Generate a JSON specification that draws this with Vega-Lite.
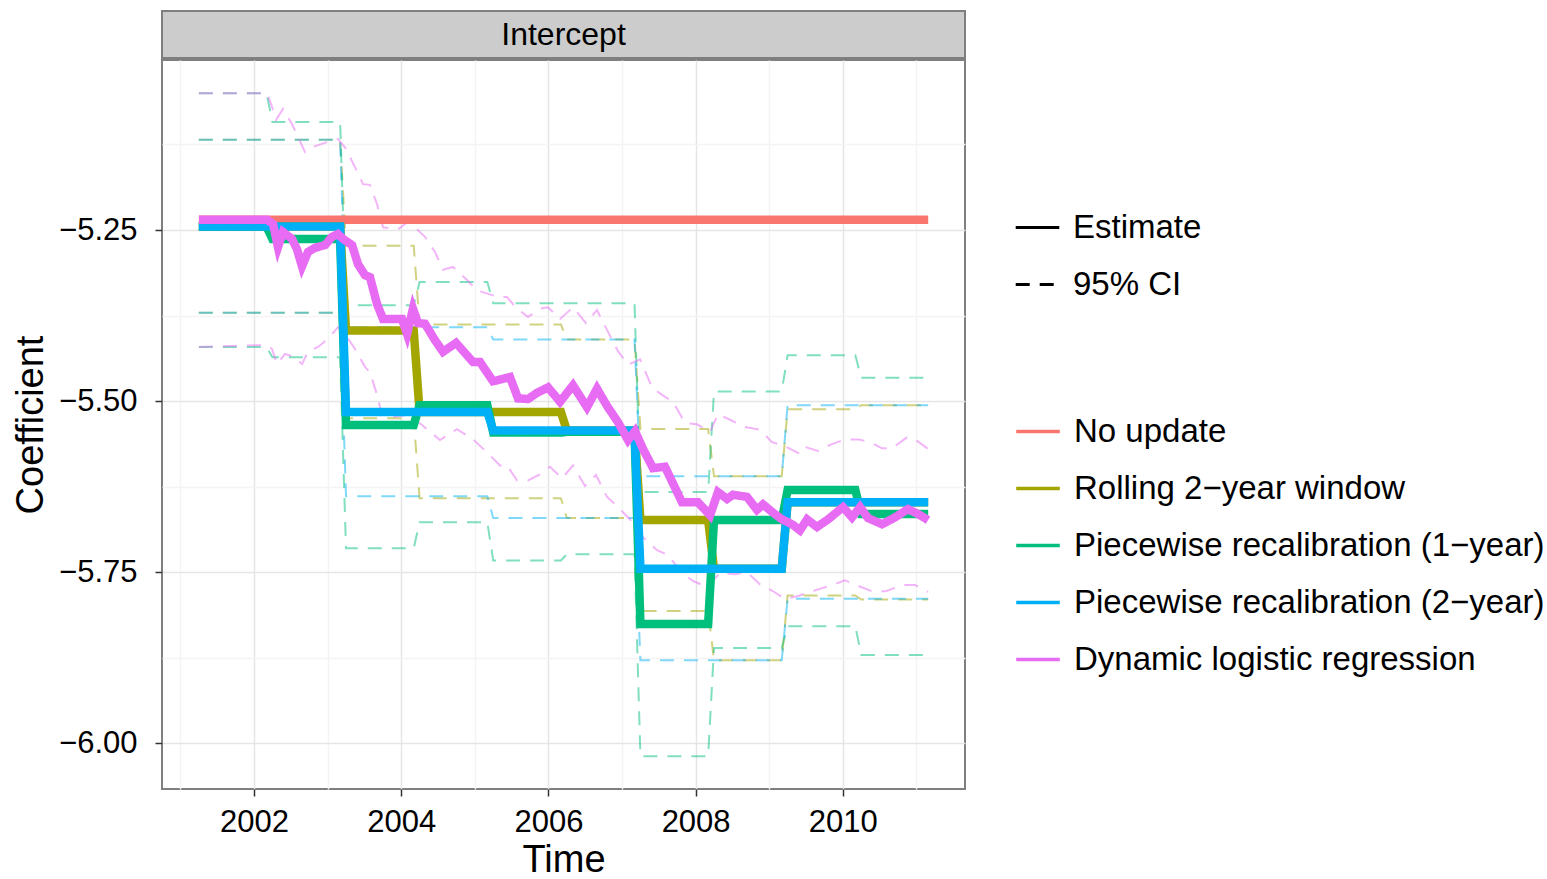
{
  "$schema": "https://vega.github.io/schema/vega-lite/v6.json",
  "padding": {"left": 11, "top": 10, "right": 0, "bottom": 0},
  "background": "white",
  "spacing": 0,
  "config": {
    "font": "Liberation Sans",
    "axis": {"domain": false, "labelFontSize": 31, "titleFontSize": 38, "titleFontWeight": "normal", "labelColor": "#000000", "titleColor": "#000000", "tickColor": "#333333", "tickSize": 7, "tickWidth": 1.5},
    "legend": {"labelFontSize": 33, "labelColor": "#000000", "labelLimit": 0, "symbolType": "stroke", "symbolStrokeWidth": 3, "symbolSize": 1900, "clipHeight": 57, "rowPadding": 0, "labelOffset": 12, "padding": 0, "symbolOpacity": 1}
  },
  "datasets": {
    "est": [
      {"s": "No update", "t": 2001.25, "v": -5.235},
      {"s": "No update", "t": 2011.16, "v": -5.235},
      {"s": "Rolling 2−year window", "t": 2001.25, "v": -5.245},
      {"s": "Rolling 2−year window", "t": 2003.17, "v": -5.245},
      {"s": "Rolling 2−year window", "t": 2003.25, "v": -5.397},
      {"s": "Rolling 2−year window", "t": 2004.17, "v": -5.397},
      {"s": "Rolling 2−year window", "t": 2004.25, "v": -5.516},
      {"s": "Rolling 2−year window", "t": 2006.17, "v": -5.516},
      {"s": "Rolling 2−year window", "t": 2006.25, "v": -5.543},
      {"s": "Rolling 2−year window", "t": 2007.17, "v": -5.543},
      {"s": "Rolling 2−year window", "t": 2007.25, "v": -5.674},
      {"s": "Rolling 2−year window", "t": 2008.17, "v": -5.674},
      {"s": "Rolling 2−year window", "t": 2008.25, "v": -5.745},
      {"s": "Rolling 2−year window", "t": 2009.17, "v": -5.745},
      {"s": "Rolling 2−year window", "t": 2009.25, "v": -5.648},
      {"s": "Rolling 2−year window", "t": 2011.16, "v": -5.648},
      {"s": "Piecewise recalibration (1−year)", "t": 2001.25, "v": -5.245},
      {"s": "Piecewise recalibration (1−year)", "t": 2002.17, "v": -5.245},
      {"s": "Piecewise recalibration (1−year)", "t": 2002.25, "v": -5.263},
      {"s": "Piecewise recalibration (1−year)", "t": 2003.17, "v": -5.263},
      {"s": "Piecewise recalibration (1−year)", "t": 2003.25, "v": -5.535},
      {"s": "Piecewise recalibration (1−year)", "t": 2004.17, "v": -5.535},
      {"s": "Piecewise recalibration (1−year)", "t": 2004.25, "v": -5.506},
      {"s": "Piecewise recalibration (1−year)", "t": 2005.17, "v": -5.506},
      {"s": "Piecewise recalibration (1−year)", "t": 2005.25, "v": -5.546},
      {"s": "Piecewise recalibration (1−year)", "t": 2006.17, "v": -5.546},
      {"s": "Piecewise recalibration (1−year)", "t": 2006.25, "v": -5.545},
      {"s": "Piecewise recalibration (1−year)", "t": 2007.17, "v": -5.545},
      {"s": "Piecewise recalibration (1−year)", "t": 2007.25, "v": -5.826},
      {"s": "Piecewise recalibration (1−year)", "t": 2008.17, "v": -5.826},
      {"s": "Piecewise recalibration (1−year)", "t": 2008.25, "v": -5.674},
      {"s": "Piecewise recalibration (1−year)", "t": 2009.17, "v": -5.674},
      {"s": "Piecewise recalibration (1−year)", "t": 2009.25, "v": -5.63},
      {"s": "Piecewise recalibration (1−year)", "t": 2010.17, "v": -5.63},
      {"s": "Piecewise recalibration (1−year)", "t": 2010.25, "v": -5.665},
      {"s": "Piecewise recalibration (1−year)", "t": 2011.16, "v": -5.665},
      {"s": "Piecewise recalibration (2−year)", "t": 2001.25, "v": -5.245},
      {"s": "Piecewise recalibration (2−year)", "t": 2003.17, "v": -5.245},
      {"s": "Piecewise recalibration (2−year)", "t": 2003.25, "v": -5.516},
      {"s": "Piecewise recalibration (2−year)", "t": 2005.17, "v": -5.516},
      {"s": "Piecewise recalibration (2−year)", "t": 2005.25, "v": -5.543},
      {"s": "Piecewise recalibration (2−year)", "t": 2007.17, "v": -5.543},
      {"s": "Piecewise recalibration (2−year)", "t": 2007.25, "v": -5.745},
      {"s": "Piecewise recalibration (2−year)", "t": 2009.17, "v": -5.745},
      {"s": "Piecewise recalibration (2−year)", "t": 2009.25, "v": -5.648},
      {"s": "Piecewise recalibration (2−year)", "t": 2011.16, "v": -5.648},
      {"s": "Dynamic logistic regression", "t": 2001.253, "v": -5.235},
      {"s": "Dynamic logistic regression", "t": 2002.177, "v": -5.235},
      {"s": "Dynamic logistic regression", "t": 2002.258, "v": -5.241},
      {"s": "Dynamic logistic regression", "t": 2002.326, "v": -5.275},
      {"s": "Dynamic logistic regression", "t": 2002.394, "v": -5.253},
      {"s": "Dynamic logistic regression", "t": 2002.516, "v": -5.263},
      {"s": "Dynamic logistic regression", "t": 2002.584, "v": -5.278},
      {"s": "Dynamic logistic regression", "t": 2002.652, "v": -5.303},
      {"s": "Dynamic logistic regression", "t": 2002.734, "v": -5.282},
      {"s": "Dynamic logistic regression", "t": 2002.829, "v": -5.276},
      {"s": "Dynamic logistic regression", "t": 2002.965, "v": -5.272},
      {"s": "Dynamic logistic regression", "t": 2003.06, "v": -5.26},
      {"s": "Dynamic logistic regression", "t": 2003.141, "v": -5.256},
      {"s": "Dynamic logistic regression", "t": 2003.209, "v": -5.263},
      {"s": "Dynamic logistic regression", "t": 2003.332, "v": -5.272},
      {"s": "Dynamic logistic regression", "t": 2003.413, "v": -5.3},
      {"s": "Dynamic logistic regression", "t": 2003.508, "v": -5.316},
      {"s": "Dynamic logistic regression", "t": 2003.576, "v": -5.319},
      {"s": "Dynamic logistic regression", "t": 2003.671, "v": -5.358},
      {"s": "Dynamic logistic regression", "t": 2003.753, "v": -5.38},
      {"s": "Dynamic logistic regression", "t": 2003.916, "v": -5.38},
      {"s": "Dynamic logistic regression", "t": 2004.011, "v": -5.38},
      {"s": "Dynamic logistic regression", "t": 2004.079, "v": -5.402},
      {"s": "Dynamic logistic regression", "t": 2004.16, "v": -5.365},
      {"s": "Dynamic logistic regression", "t": 2004.228, "v": -5.386},
      {"s": "Dynamic logistic regression", "t": 2004.323, "v": -5.387},
      {"s": "Dynamic logistic regression", "t": 2004.459, "v": -5.411},
      {"s": "Dynamic logistic regression", "t": 2004.568, "v": -5.428},
      {"s": "Dynamic logistic regression", "t": 2004.745, "v": -5.415},
      {"s": "Dynamic logistic regression", "t": 2004.976, "v": -5.443},
      {"s": "Dynamic logistic regression", "t": 2005.071, "v": -5.443},
      {"s": "Dynamic logistic regression", "t": 2005.247, "v": -5.471},
      {"s": "Dynamic logistic regression", "t": 2005.478, "v": -5.465},
      {"s": "Dynamic logistic regression", "t": 2005.587, "v": -5.496},
      {"s": "Dynamic logistic regression", "t": 2005.723, "v": -5.497},
      {"s": "Dynamic logistic regression", "t": 2005.845, "v": -5.488},
      {"s": "Dynamic logistic regression", "t": 2005.995, "v": -5.48},
      {"s": "Dynamic logistic regression", "t": 2006.158, "v": -5.501},
      {"s": "Dynamic logistic regression", "t": 2006.334, "v": -5.477},
      {"s": "Dynamic logistic regression", "t": 2006.524, "v": -5.509},
      {"s": "Dynamic logistic regression", "t": 2006.66, "v": -5.482},
      {"s": "Dynamic logistic regression", "t": 2006.796, "v": -5.507},
      {"s": "Dynamic logistic regression", "t": 2006.946, "v": -5.531},
      {"s": "Dynamic logistic regression", "t": 2007.082, "v": -5.557},
      {"s": "Dynamic logistic regression", "t": 2007.177, "v": -5.544},
      {"s": "Dynamic logistic regression", "t": 2007.285, "v": -5.57},
      {"s": "Dynamic logistic regression", "t": 2007.421, "v": -5.598},
      {"s": "Dynamic logistic regression", "t": 2007.584, "v": -5.596},
      {"s": "Dynamic logistic regression", "t": 2007.815, "v": -5.648},
      {"s": "Dynamic logistic regression", "t": 2008.033, "v": -5.648},
      {"s": "Dynamic logistic regression", "t": 2008.196, "v": -5.667},
      {"s": "Dynamic logistic regression", "t": 2008.304, "v": -5.633},
      {"s": "Dynamic logistic regression", "t": 2008.427, "v": -5.643},
      {"s": "Dynamic logistic regression", "t": 2008.508, "v": -5.637},
      {"s": "Dynamic logistic regression", "t": 2008.698, "v": -5.64},
      {"s": "Dynamic logistic regression", "t": 2008.834, "v": -5.659},
      {"s": "Dynamic logistic regression", "t": 2008.916, "v": -5.651},
      {"s": "Dynamic logistic regression", "t": 2009.038, "v": -5.662},
      {"s": "Dynamic logistic regression", "t": 2009.174, "v": -5.673},
      {"s": "Dynamic logistic regression", "t": 2009.255, "v": -5.677},
      {"s": "Dynamic logistic regression", "t": 2009.323, "v": -5.681},
      {"s": "Dynamic logistic regression", "t": 2009.418, "v": -5.689},
      {"s": "Dynamic logistic regression", "t": 2009.514, "v": -5.673},
      {"s": "Dynamic logistic regression", "t": 2009.649, "v": -5.684},
      {"s": "Dynamic logistic regression", "t": 2009.799, "v": -5.673},
      {"s": "Dynamic logistic regression", "t": 2010.003, "v": -5.655},
      {"s": "Dynamic logistic regression", "t": 2010.125, "v": -5.67},
      {"s": "Dynamic logistic regression", "t": 2010.234, "v": -5.655},
      {"s": "Dynamic logistic regression", "t": 2010.342, "v": -5.671},
      {"s": "Dynamic logistic regression", "t": 2010.533, "v": -5.68},
      {"s": "Dynamic logistic regression", "t": 2010.709, "v": -5.67},
      {"s": "Dynamic logistic regression", "t": 2010.886, "v": -5.658},
      {"s": "Dynamic logistic regression", "t": 2011.022, "v": -5.665},
      {"s": "Dynamic logistic regression", "t": 2011.158, "v": -5.674}
    ],
    "ci": [
      {"s": "Rolling 2−year window", "b": "u", "t": 2001.25, "v": -5.118},
      {"s": "Rolling 2−year window", "b": "u", "t": 2003.17, "v": -5.118},
      {"s": "Rolling 2−year window", "b": "u", "t": 2003.25, "v": -5.273},
      {"s": "Rolling 2−year window", "b": "u", "t": 2004.17, "v": -5.273},
      {"s": "Rolling 2−year window", "b": "u", "t": 2004.25, "v": -5.388},
      {"s": "Rolling 2−year window", "b": "u", "t": 2006.17, "v": -5.388},
      {"s": "Rolling 2−year window", "b": "u", "t": 2006.25, "v": -5.41},
      {"s": "Rolling 2−year window", "b": "u", "t": 2007.17, "v": -5.41},
      {"s": "Rolling 2−year window", "b": "u", "t": 2007.25, "v": -5.541},
      {"s": "Rolling 2−year window", "b": "u", "t": 2008.17, "v": -5.541},
      {"s": "Rolling 2−year window", "b": "u", "t": 2008.25, "v": -5.61},
      {"s": "Rolling 2−year window", "b": "u", "t": 2009.17, "v": -5.61},
      {"s": "Rolling 2−year window", "b": "u", "t": 2009.25, "v": -5.512},
      {"s": "Rolling 2−year window", "b": "u", "t": 2010.17, "v": -5.512},
      {"s": "Rolling 2−year window", "b": "u", "t": 2010.25, "v": -5.506},
      {"s": "Rolling 2−year window", "b": "u", "t": 2011.16, "v": -5.506},
      {"s": "Rolling 2−year window", "b": "l", "t": 2001.25, "v": -5.371},
      {"s": "Rolling 2−year window", "b": "l", "t": 2003.17, "v": -5.371},
      {"s": "Rolling 2−year window", "b": "l", "t": 2003.25, "v": -5.525},
      {"s": "Rolling 2−year window", "b": "l", "t": 2004.17, "v": -5.525},
      {"s": "Rolling 2−year window", "b": "l", "t": 2004.25, "v": -5.642},
      {"s": "Rolling 2−year window", "b": "l", "t": 2006.17, "v": -5.642},
      {"s": "Rolling 2−year window", "b": "l", "t": 2006.25, "v": -5.671},
      {"s": "Rolling 2−year window", "b": "l", "t": 2007.17, "v": -5.671},
      {"s": "Rolling 2−year window", "b": "l", "t": 2007.25, "v": -5.807},
      {"s": "Rolling 2−year window", "b": "l", "t": 2008.17, "v": -5.807},
      {"s": "Rolling 2−year window", "b": "l", "t": 2008.25, "v": -5.879},
      {"s": "Rolling 2−year window", "b": "l", "t": 2009.17, "v": -5.879},
      {"s": "Rolling 2−year window", "b": "l", "t": 2009.25, "v": -5.784},
      {"s": "Rolling 2−year window", "b": "l", "t": 2010.17, "v": -5.784},
      {"s": "Rolling 2−year window", "b": "l", "t": 2010.25, "v": -5.79},
      {"s": "Rolling 2−year window", "b": "l", "t": 2011.16, "v": -5.79},
      {"s": "Piecewise recalibration (1−year)", "b": "u", "t": 2001.25, "v": -5.05},
      {"s": "Piecewise recalibration (1−year)", "b": "u", "t": 2002.17, "v": -5.05},
      {"s": "Piecewise recalibration (1−year)", "b": "u", "t": 2002.25, "v": -5.092},
      {"s": "Piecewise recalibration (1−year)", "b": "u", "t": 2003.17, "v": -5.092},
      {"s": "Piecewise recalibration (1−year)", "b": "u", "t": 2003.25, "v": -5.36},
      {"s": "Piecewise recalibration (1−year)", "b": "u", "t": 2004.17, "v": -5.36},
      {"s": "Piecewise recalibration (1−year)", "b": "u", "t": 2004.25, "v": -5.326},
      {"s": "Piecewise recalibration (1−year)", "b": "u", "t": 2005.17, "v": -5.326},
      {"s": "Piecewise recalibration (1−year)", "b": "u", "t": 2005.25, "v": -5.357},
      {"s": "Piecewise recalibration (1−year)", "b": "u", "t": 2007.17, "v": -5.357},
      {"s": "Piecewise recalibration (1−year)", "b": "u", "t": 2007.25, "v": -5.633},
      {"s": "Piecewise recalibration (1−year)", "b": "u", "t": 2008.17, "v": -5.633},
      {"s": "Piecewise recalibration (1−year)", "b": "u", "t": 2008.25, "v": -5.486},
      {"s": "Piecewise recalibration (1−year)", "b": "u", "t": 2009.17, "v": -5.486},
      {"s": "Piecewise recalibration (1−year)", "b": "u", "t": 2009.25, "v": -5.433},
      {"s": "Piecewise recalibration (1−year)", "b": "u", "t": 2010.17, "v": -5.433},
      {"s": "Piecewise recalibration (1−year)", "b": "u", "t": 2010.25, "v": -5.466},
      {"s": "Piecewise recalibration (1−year)", "b": "u", "t": 2011.16, "v": -5.466},
      {"s": "Piecewise recalibration (1−year)", "b": "l", "t": 2001.25, "v": -5.421},
      {"s": "Piecewise recalibration (1−year)", "b": "l", "t": 2002.17, "v": -5.421},
      {"s": "Piecewise recalibration (1−year)", "b": "l", "t": 2002.25, "v": -5.436},
      {"s": "Piecewise recalibration (1−year)", "b": "l", "t": 2003.17, "v": -5.436},
      {"s": "Piecewise recalibration (1−year)", "b": "l", "t": 2003.25, "v": -5.715},
      {"s": "Piecewise recalibration (1−year)", "b": "l", "t": 2004.17, "v": -5.715},
      {"s": "Piecewise recalibration (1−year)", "b": "l", "t": 2004.25, "v": -5.677},
      {"s": "Piecewise recalibration (1−year)", "b": "l", "t": 2005.17, "v": -5.677},
      {"s": "Piecewise recalibration (1−year)", "b": "l", "t": 2005.25, "v": -5.733},
      {"s": "Piecewise recalibration (1−year)", "b": "l", "t": 2006.17, "v": -5.733},
      {"s": "Piecewise recalibration (1−year)", "b": "l", "t": 2006.25, "v": -5.724},
      {"s": "Piecewise recalibration (1−year)", "b": "l", "t": 2007.17, "v": -5.724},
      {"s": "Piecewise recalibration (1−year)", "b": "l", "t": 2007.25, "v": -6.019},
      {"s": "Piecewise recalibration (1−year)", "b": "l", "t": 2008.17, "v": -6.019},
      {"s": "Piecewise recalibration (1−year)", "b": "l", "t": 2008.25, "v": -5.861},
      {"s": "Piecewise recalibration (1−year)", "b": "l", "t": 2009.17, "v": -5.861},
      {"s": "Piecewise recalibration (1−year)", "b": "l", "t": 2009.25, "v": -5.829},
      {"s": "Piecewise recalibration (1−year)", "b": "l", "t": 2010.17, "v": -5.829},
      {"s": "Piecewise recalibration (1−year)", "b": "l", "t": 2010.25, "v": -5.871},
      {"s": "Piecewise recalibration (1−year)", "b": "l", "t": 2011.16, "v": -5.871},
      {"s": "Piecewise recalibration (2−year)", "b": "u", "t": 2001.25, "v": -5.118},
      {"s": "Piecewise recalibration (2−year)", "b": "u", "t": 2003.17, "v": -5.118},
      {"s": "Piecewise recalibration (2−year)", "b": "u", "t": 2003.25, "v": -5.392},
      {"s": "Piecewise recalibration (2−year)", "b": "u", "t": 2005.17, "v": -5.392},
      {"s": "Piecewise recalibration (2−year)", "b": "u", "t": 2005.25, "v": -5.41},
      {"s": "Piecewise recalibration (2−year)", "b": "u", "t": 2007.17, "v": -5.41},
      {"s": "Piecewise recalibration (2−year)", "b": "u", "t": 2007.25, "v": -5.61},
      {"s": "Piecewise recalibration (2−year)", "b": "u", "t": 2009.17, "v": -5.61},
      {"s": "Piecewise recalibration (2−year)", "b": "u", "t": 2009.25, "v": -5.506},
      {"s": "Piecewise recalibration (2−year)", "b": "u", "t": 2011.16, "v": -5.506},
      {"s": "Piecewise recalibration (2−year)", "b": "l", "t": 2001.25, "v": -5.371},
      {"s": "Piecewise recalibration (2−year)", "b": "l", "t": 2003.17, "v": -5.371},
      {"s": "Piecewise recalibration (2−year)", "b": "l", "t": 2003.25, "v": -5.639},
      {"s": "Piecewise recalibration (2−year)", "b": "l", "t": 2005.17, "v": -5.639},
      {"s": "Piecewise recalibration (2−year)", "b": "l", "t": 2005.25, "v": -5.671},
      {"s": "Piecewise recalibration (2−year)", "b": "l", "t": 2007.17, "v": -5.671},
      {"s": "Piecewise recalibration (2−year)", "b": "l", "t": 2007.25, "v": -5.879},
      {"s": "Piecewise recalibration (2−year)", "b": "l", "t": 2009.17, "v": -5.879},
      {"s": "Piecewise recalibration (2−year)", "b": "l", "t": 2009.25, "v": -5.789},
      {"s": "Piecewise recalibration (2−year)", "b": "l", "t": 2011.16, "v": -5.789},
      {"s": "Dynamic logistic regression", "b": "u", "t": 2001.253, "v": -5.05},
      {"s": "Dynamic logistic regression", "b": "u", "t": 2002.177, "v": -5.05},
      {"s": "Dynamic logistic regression", "b": "u", "t": 2002.245, "v": -5.07},
      {"s": "Dynamic logistic regression", "b": "u", "t": 2002.299, "v": -5.089},
      {"s": "Dynamic logistic regression", "b": "u", "t": 2002.394, "v": -5.073},
      {"s": "Dynamic logistic regression", "b": "u", "t": 2002.516, "v": -5.095},
      {"s": "Dynamic logistic regression", "b": "u", "t": 2002.598, "v": -5.114},
      {"s": "Dynamic logistic regression", "b": "u", "t": 2002.693, "v": -5.136},
      {"s": "Dynamic logistic regression", "b": "u", "t": 2002.788, "v": -5.129},
      {"s": "Dynamic logistic regression", "b": "u", "t": 2003.005, "v": -5.121},
      {"s": "Dynamic logistic regression", "b": "u", "t": 2003.141, "v": -5.117},
      {"s": "Dynamic logistic regression", "b": "u", "t": 2003.236, "v": -5.129},
      {"s": "Dynamic logistic regression", "b": "u", "t": 2003.372, "v": -5.158},
      {"s": "Dynamic logistic regression", "b": "u", "t": 2003.481, "v": -5.183},
      {"s": "Dynamic logistic regression", "b": "u", "t": 2003.576, "v": -5.184},
      {"s": "Dynamic logistic regression", "b": "u", "t": 2003.671, "v": -5.212},
      {"s": "Dynamic logistic regression", "b": "u", "t": 2003.753, "v": -5.246},
      {"s": "Dynamic logistic regression", "b": "u", "t": 2003.957, "v": -5.249},
      {"s": "Dynamic logistic regression", "b": "u", "t": 2004.092, "v": -5.238},
      {"s": "Dynamic logistic regression", "b": "u", "t": 2004.188, "v": -5.246},
      {"s": "Dynamic logistic regression", "b": "u", "t": 2004.323, "v": -5.26},
      {"s": "Dynamic logistic regression", "b": "u", "t": 2004.459, "v": -5.282},
      {"s": "Dynamic logistic regression", "b": "u", "t": 2004.568, "v": -5.308},
      {"s": "Dynamic logistic regression", "b": "u", "t": 2004.704, "v": -5.304},
      {"s": "Dynamic logistic regression", "b": "u", "t": 2004.894, "v": -5.323},
      {"s": "Dynamic logistic regression", "b": "u", "t": 2005.03, "v": -5.338},
      {"s": "Dynamic logistic regression", "b": "u", "t": 2005.315, "v": -5.348},
      {"s": "Dynamic logistic regression", "b": "u", "t": 2005.438, "v": -5.348},
      {"s": "Dynamic logistic regression", "b": "u", "t": 2005.573, "v": -5.365},
      {"s": "Dynamic logistic regression", "b": "u", "t": 2005.723, "v": -5.377},
      {"s": "Dynamic logistic regression", "b": "u", "t": 2005.886, "v": -5.365},
      {"s": "Dynamic logistic regression", "b": "u", "t": 2005.995, "v": -5.363},
      {"s": "Dynamic logistic regression", "b": "u", "t": 2006.158, "v": -5.38},
      {"s": "Dynamic logistic regression", "b": "u", "t": 2006.334, "v": -5.363},
      {"s": "Dynamic logistic regression", "b": "u", "t": 2006.511, "v": -5.386},
      {"s": "Dynamic logistic regression", "b": "u", "t": 2006.66, "v": -5.367},
      {"s": "Dynamic logistic regression", "b": "u", "t": 2006.796, "v": -5.396},
      {"s": "Dynamic logistic regression", "b": "u", "t": 2006.946, "v": -5.427},
      {"s": "Dynamic logistic regression", "b": "u", "t": 2007.082, "v": -5.447},
      {"s": "Dynamic logistic regression", "b": "u", "t": 2007.245, "v": -5.439},
      {"s": "Dynamic logistic regression", "b": "u", "t": 2007.408, "v": -5.48},
      {"s": "Dynamic logistic regression", "b": "u", "t": 2007.543, "v": -5.491},
      {"s": "Dynamic logistic regression", "b": "u", "t": 2007.693, "v": -5.501},
      {"s": "Dynamic logistic regression", "b": "u", "t": 2007.856, "v": -5.532},
      {"s": "Dynamic logistic regression", "b": "u", "t": 2008.019, "v": -5.534},
      {"s": "Dynamic logistic regression", "b": "u", "t": 2008.196, "v": -5.545},
      {"s": "Dynamic logistic regression", "b": "u", "t": 2008.304, "v": -5.519},
      {"s": "Dynamic logistic regression", "b": "u", "t": 2008.481, "v": -5.528},
      {"s": "Dynamic logistic regression", "b": "u", "t": 2008.671, "v": -5.538},
      {"s": "Dynamic logistic regression", "b": "u", "t": 2008.875, "v": -5.542},
      {"s": "Dynamic logistic regression", "b": "u", "t": 2009.038, "v": -5.56},
      {"s": "Dynamic logistic regression", "b": "u", "t": 2009.215, "v": -5.566},
      {"s": "Dynamic logistic regression", "b": "u", "t": 2009.323, "v": -5.572},
      {"s": "Dynamic logistic regression", "b": "u", "t": 2009.418, "v": -5.577},
      {"s": "Dynamic logistic regression", "b": "u", "t": 2009.486, "v": -5.567},
      {"s": "Dynamic logistic regression", "b": "u", "t": 2009.663, "v": -5.573},
      {"s": "Dynamic logistic regression", "b": "u", "t": 2009.826, "v": -5.564},
      {"s": "Dynamic logistic regression", "b": "u", "t": 2010.03, "v": -5.556},
      {"s": "Dynamic logistic regression", "b": "u", "t": 2010.207, "v": -5.556},
      {"s": "Dynamic logistic regression", "b": "u", "t": 2010.37, "v": -5.56},
      {"s": "Dynamic logistic regression", "b": "u", "t": 2010.533, "v": -5.569},
      {"s": "Dynamic logistic regression", "b": "u", "t": 2010.668, "v": -5.569},
      {"s": "Dynamic logistic regression", "b": "u", "t": 2010.872, "v": -5.553},
      {"s": "Dynamic logistic regression", "b": "u", "t": 2010.954, "v": -5.554},
      {"s": "Dynamic logistic regression", "b": "u", "t": 2011.158, "v": -5.57},
      {"s": "Dynamic logistic regression", "b": "l", "t": 2001.253, "v": -5.421},
      {"s": "Dynamic logistic regression", "b": "l", "t": 2002.177, "v": -5.418},
      {"s": "Dynamic logistic regression", "b": "l", "t": 2002.245, "v": -5.424},
      {"s": "Dynamic logistic regression", "b": "l", "t": 2002.313, "v": -5.446},
      {"s": "Dynamic logistic regression", "b": "l", "t": 2002.421, "v": -5.431},
      {"s": "Dynamic logistic regression", "b": "l", "t": 2002.557, "v": -5.436},
      {"s": "Dynamic logistic regression", "b": "l", "t": 2002.652, "v": -5.446},
      {"s": "Dynamic logistic regression", "b": "l", "t": 2002.734, "v": -5.428},
      {"s": "Dynamic logistic regression", "b": "l", "t": 2002.87, "v": -5.421},
      {"s": "Dynamic logistic regression", "b": "l", "t": 2003.005, "v": -5.409},
      {"s": "Dynamic logistic regression", "b": "l", "t": 2003.141, "v": -5.392},
      {"s": "Dynamic logistic regression", "b": "l", "t": 2003.236, "v": -5.402},
      {"s": "Dynamic logistic regression", "b": "l", "t": 2003.372, "v": -5.424},
      {"s": "Dynamic logistic regression", "b": "l", "t": 2003.508, "v": -5.45},
      {"s": "Dynamic logistic regression", "b": "l", "t": 2003.576, "v": -5.458},
      {"s": "Dynamic logistic regression", "b": "l", "t": 2003.671, "v": -5.491},
      {"s": "Dynamic logistic regression", "b": "l", "t": 2003.739, "v": -5.52},
      {"s": "Dynamic logistic regression", "b": "l", "t": 2003.916, "v": -5.523},
      {"s": "Dynamic logistic regression", "b": "l", "t": 2004.092, "v": -5.52},
      {"s": "Dynamic logistic regression", "b": "l", "t": 2004.283, "v": -5.535},
      {"s": "Dynamic logistic regression", "b": "l", "t": 2004.527, "v": -5.557},
      {"s": "Dynamic logistic regression", "b": "l", "t": 2004.758, "v": -5.541},
      {"s": "Dynamic logistic regression", "b": "l", "t": 2004.976, "v": -5.556},
      {"s": "Dynamic logistic regression", "b": "l", "t": 2005.166, "v": -5.575},
      {"s": "Dynamic logistic regression", "b": "l", "t": 2005.342, "v": -5.594},
      {"s": "Dynamic logistic regression", "b": "l", "t": 2005.438, "v": -5.594},
      {"s": "Dynamic logistic regression", "b": "l", "t": 2005.573, "v": -5.616},
      {"s": "Dynamic logistic regression", "b": "l", "t": 2005.723, "v": -5.616},
      {"s": "Dynamic logistic regression", "b": "l", "t": 2005.886, "v": -5.607},
      {"s": "Dynamic logistic regression", "b": "l", "t": 2006.022, "v": -5.596},
      {"s": "Dynamic logistic regression", "b": "l", "t": 2006.185, "v": -5.613},
      {"s": "Dynamic logistic regression", "b": "l", "t": 2006.334, "v": -5.594},
      {"s": "Dynamic logistic regression", "b": "l", "t": 2006.497, "v": -5.624},
      {"s": "Dynamic logistic regression", "b": "l", "t": 2006.647, "v": -5.608},
      {"s": "Dynamic logistic regression", "b": "l", "t": 2006.796, "v": -5.64},
      {"s": "Dynamic logistic regression", "b": "l", "t": 2006.946, "v": -5.655},
      {"s": "Dynamic logistic regression", "b": "l", "t": 2007.109, "v": -5.673},
      {"s": "Dynamic logistic regression", "b": "l", "t": 2007.285, "v": -5.699},
      {"s": "Dynamic logistic regression", "b": "l", "t": 2007.476, "v": -5.718},
      {"s": "Dynamic logistic regression", "b": "l", "t": 2007.625, "v": -5.725},
      {"s": "Dynamic logistic regression", "b": "l", "t": 2007.802, "v": -5.75},
      {"s": "Dynamic logistic regression", "b": "l", "t": 2007.965, "v": -5.763},
      {"s": "Dynamic logistic regression", "b": "l", "t": 2008.155, "v": -5.772},
      {"s": "Dynamic logistic regression", "b": "l", "t": 2008.332, "v": -5.751},
      {"s": "Dynamic logistic regression", "b": "l", "t": 2008.535, "v": -5.753},
      {"s": "Dynamic logistic regression", "b": "l", "t": 2008.698, "v": -5.75},
      {"s": "Dynamic logistic regression", "b": "l", "t": 2008.875, "v": -5.768},
      {"s": "Dynamic logistic regression", "b": "l", "t": 2009.052, "v": -5.778},
      {"s": "Dynamic logistic regression", "b": "l", "t": 2009.215, "v": -5.789},
      {"s": "Dynamic logistic regression", "b": "l", "t": 2009.391, "v": -5.785},
      {"s": "Dynamic logistic regression", "b": "l", "t": 2009.582, "v": -5.778},
      {"s": "Dynamic logistic regression", "b": "l", "t": 2009.853, "v": -5.769},
      {"s": "Dynamic logistic regression", "b": "l", "t": 2010.03, "v": -5.762},
      {"s": "Dynamic logistic regression", "b": "l", "t": 2010.207, "v": -5.77},
      {"s": "Dynamic logistic regression", "b": "l", "t": 2010.397, "v": -5.778},
      {"s": "Dynamic logistic regression", "b": "l", "t": 2010.587, "v": -5.778},
      {"s": "Dynamic logistic regression", "b": "l", "t": 2010.804, "v": -5.769},
      {"s": "Dynamic logistic regression", "b": "l", "t": 2010.981, "v": -5.769},
      {"s": "Dynamic logistic regression", "b": "l", "t": 2011.158, "v": -5.779}
    ]
  },
  "vconcat": [
    {
      "width": 803,
      "height": 47,
      "view": {"fill": "#cccccc", "stroke": "#7f7f7f", "strokeWidth": 2},
      "data": {"values": [{"label": "Intercept"}]},
      "mark": {"type": "text", "fontSize": 32, "color": "#000000"},
      "encoding": {"text": {"field": "label", "type": "nominal"}}
    },
    {
      "width": 803,
      "height": 729,
      "view": {"stroke": "#7f7f7f", "strokeWidth": 2},
      "encoding": {
        "x": {
          "field": "t", "type": "quantitative", "title": "Time",
          "scale": {"domain": [2000.75, 2011.66], "nice": false, "zero": false},
          "axis": {
            "values": [2001, 2002, 2003, 2004, 2005, 2006, 2007, 2008, 2009, 2010, 2011],
            "labelExpr": "datum.value % 2 === 0 ? format(datum.value, 'd') : ''",
            "tickColor": {"condition": {"test": "datum.value % 2 === 1", "value": "transparent"}, "value": "#333333"},
            "gridColor": {"condition": {"test": "datum.value % 2 === 1", "value": "#f4f4f4"}, "value": "#e5e5e5"},
            "gridWidth": 1.5,
            "labelPadding": 11,
            "titlePadding": 4,
            "labelFlush": false
          }
        },
        "y": {
          "field": "v", "type": "quantitative", "title": "Coefficient",
          "scale": {"domain": [-6.067, -5.0015], "nice": false, "zero": false},
          "axis": {
            "values": [-6, -5.875, -5.75, -5.625, -5.5, -5.375, -5.25, -5.125],
            "labelExpr": "abs(datum.value * 4 - round(datum.value * 4)) > 0.01 ? '' : format(datum.value, '.2f')",
            "tickColor": {"condition": {"test": "abs(datum.value * 4 - round(datum.value * 4)) > 0.01", "value": "transparent"}, "value": "#333333"},
            "gridColor": {"condition": {"test": "abs(datum.value * 4 - round(datum.value * 4)) > 0.01", "value": "#f4f4f4"}, "value": "#e5e5e5"},
            "gridWidth": 1.5,
            "labelPadding": 18,
            "titlePadding": 8,
            "labelFlush": false
          }
        }
      },
      "layer": [
        {
          "data": {"name": "ci"},
          "mark": {"type": "line", "strokeWidth": 2, "opacity": 0.5},
          "encoding": {
            "color": {"field": "s", "type": "nominal"},
            "detail": {"field": "b", "type": "nominal"},
            "strokeDash": {"datum": "95% CI"}
          }
        },
        {
          "data": {"name": "est"},
          "mark": {"type": "line", "strokeWidth": 8.5},
          "encoding": {
            "color": {
              "field": "s", "type": "nominal",
              "scale": {
                "domain": ["No update", "Rolling 2−year window", "Piecewise recalibration (1−year)", "Piecewise recalibration (2−year)", "Dynamic logistic regression"],
                "range": ["#F8766D", "#A3A500", "#00BF7D", "#00B0F6", "#E76BF3"]
              },
              "legend": {"title": null, "orient": "none", "legendX": 852, "legendY": 392, "symbolStrokeWidth": 3.5}
            },
            "strokeDash": {
              "datum": "Estimate",
              "scale": {"domain": ["Estimate", "95% CI"], "range": [[1, 0], [14, 10]]},
              "legend": {"title": null, "orient": "none", "legendX": 852, "legendY": 188, "symbolStrokeColor": "#000000", "symbolStrokeWidth": 3}
            }
          }
        }
      ]
    }
  ]
}
